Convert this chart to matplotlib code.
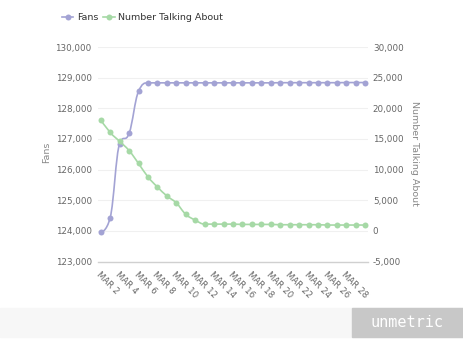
import matplotlib
matplotlib.use('Agg')
import matplotlib.pyplot as plt
from matplotlib.path import Path
from matplotlib.patches import PathPatch, Rectangle
from matplotlib.lines import Line2D
import pandas as pd

# data (29 daily points, Mar 2 - Mar 30)
dates = pd.date_range('2013-03-02', periods=29, freq='D')
fans = [123950, 124430, 126850, 127180, 128555, 128830, 128830, 128830, 128830, 128830,
        128830, 128830, 128830, 128830, 128830, 128830, 128830, 128830, 128830, 128835,
        128835, 128835, 128835, 128835, 128835, 128835, 128840, 128840, 128840]
talking = [18100, 16050, 14600, 13100, 11000, 8800, 7150, 5700, 4550, 2700,
           1750, 1100, 1100, 1100, 1100, 1050, 1050, 1050, 1050, 1000,
           1000, 1000, 1000, 1000, 950, 950, 950, 950, 950]
fans_ticks = [123000, 124000, 125000, 126000, 127000, 128000, 129000, 130000]
talk_ticks = [-5000, 0, 5000, 10000, 15000, 20000, 25000, 30000]

purple = '#a3a3d4'
green = '#a6d9a6'


def spline_path(xs, ys):
    # highcharts style spline (smoothing 1.5)
    n = len(xs)
    lc = [None] * n
    rc = [None] * n
    for i in range(1, n - 1):
        x, y = xs[i], ys[i]
        lx, ly = xs[i - 1], ys[i - 1]
        nx, ny = xs[i + 1], ys[i + 1]
        lcx = (1.5 * x + lx) / 2.5
        lcy = (1.5 * y + ly) / 2.5
        rcx = (1.5 * x + nx) / 2.5
        rcy = (1.5 * y + ny) / 2.5
        corr = ((rcy - lcy) * (rcx - x)) / (rcx - lcx) + y - rcy
        lcy += corr
        rcy += corr
        if lcy > ly and lcy > y:
            lcy = max(ly, y); rcy = 2 * y - lcy
        elif lcy < ly and lcy < y:
            lcy = min(ly, y); rcy = 2 * y - lcy
        if rcy > ny and rcy > y:
            rcy = max(ny, y); lcy = 2 * y - rcy
        elif rcy < ny and rcy < y:
            rcy = min(ny, y); lcy = 2 * y - rcy
        lc[i] = (lcx, lcy)
        rc[i] = (rcx, rcy)
    verts = [(xs[0], ys[0])]
    codes = [Path.MOVETO]
    for i in range(1, n):
        c1 = rc[i - 1] if rc[i - 1] else (xs[i - 1], ys[i - 1])
        c2 = lc[i] if lc[i] else (xs[i], ys[i])
        verts += [c1, c2, (xs[i], ys[i])]
        codes += [Path.CURVE4] * 3
    return Path(verts, codes)


W, H = 463, 348
fig = plt.figure(figsize=(W / 100, H / 100), dpi=100)
fig.patch.set_facecolor('white')

ax = fig.add_axes([98 / W, 1 - 261.5 / H, 270 / W, 214.5 / H])
ax2 = ax.twinx()
x = list(range(len(dates)))

ax.set_ylim(123000, 130000)
ax2.set_ylim(-5000, 30000)
ax.set_xlim(-0.29, len(x) - 1 + 0.29)

ax.add_patch(PathPatch(spline_path(x, fans), fill=False, edgecolor=purple, lw=1.2, zorder=3))
ax.plot(x, fans, 'o', color=purple, ms=4.3, mew=0, zorder=4)
ax2.add_patch(PathPatch(spline_path(x, talking), fill=False, edgecolor=green, lw=1.2, zorder=3))
ax2.plot(x, talking, 'o', color=green, ms=4.3, mew=0, zorder=4)

# grid + axes styling
ax.set_yticks(fans_ticks)
ax.set_yticklabels(['{:,}'.format(v) for v in fans_ticks])
ax2.set_yticks(talk_ticks)
ax2.set_yticklabels(['{:,}'.format(v) for v in talk_ticks])
for v in fans_ticks[1:]:
    ax.axhline(v, color='#f0f0f0', lw=0.8, zorder=0)
for a in (ax, ax2):
    for s in a.spines.values():
        s.set_visible(False)
ax.spines['bottom'].set_visible(True)
ax.spines['bottom'].set_color('#d0d0d0')
ax.spines['bottom'].set_linewidth(1)

ax.tick_params(axis='y', length=0, pad=4.5, labelsize=6.3, labelcolor='#666666')
ax2.tick_params(axis='y', length=0, pad=3.5, labelsize=6.3, labelcolor='#666666')

tick_idx = list(range(0, 27, 2))
ax.set_xticks(tick_idx)
ax.set_xticklabels(['MAR ' + str(dates[i].day) for i in tick_idx], rotation=-45,
                   ha='left', va='top', rotation_mode='anchor')
ax.tick_params(axis='x', length=0, pad=6, labelsize=6.2, labelcolor='#666666')

fig.text(46.7 / W, 1 - 152 / H, 'Fans', rotation=90, ha='center', va='center',
         fontsize=6.8, color='#888888')
fig.text(414 / W, 1 - 153 / H, 'Number Talking About', rotation=270, ha='center', va='center',
         fontsize=6.8, color='#888888')

# legend at the top
handles = [Line2D([], [], color=purple, marker='o', ms=4.3, mew=0, lw=1.2),
           Line2D([], [], color=green, marker='o', ms=4.3, mew=0, lw=1.2)]
fig.legend(handles, ['Fans', 'Number Talking About'], loc='center left',
           bbox_to_anchor=(62 / W, 1 - 18 / H), ncol=2, frameon=False, fontsize=6.8,
           handlelength=1.2, handletextpad=0.4, columnspacing=0.5, borderaxespad=0,
           borderpad=0, labelcolor='#333333')

# footer band with logo box
fig.patches.append(Rectangle((0, 1 - 337 / H), 1, 29 / H, transform=fig.transFigure,
                             color='#f7f7f7', zorder=0))
fig.patches.append(Rectangle((352 / W, 1 - 337 / H), 111 / W, 29 / H, transform=fig.transFigure,
                             color='#c8c8c8', zorder=1))
fig.text(407 / W, 1 - 322.5 / H, 'unmetric', ha='center', va='center', fontsize=11,
         color='white', family='DejaVu Sans Mono')

fig.savefig('out.png', dpi=100, facecolor='white')
